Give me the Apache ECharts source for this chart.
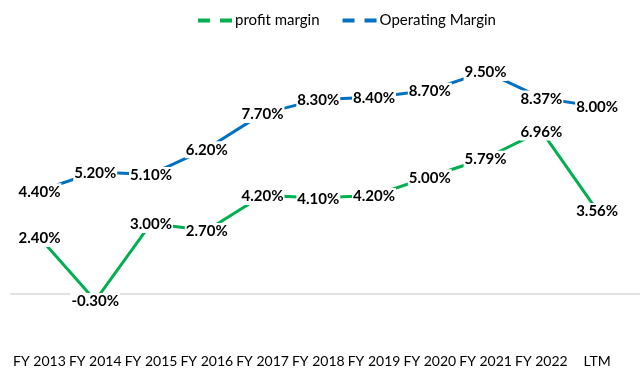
<!DOCTYPE html>
<html>
<head>
<meta charset="utf-8">
<script src="https://cdn.jsdelivr.net/npm/echarts@6/dist/echarts.min.js"></script>
<style>html,body{margin:0;padding:0;background:#fff;}#c{width:640px;height:378px;}</style>
</head>
<body>
<div id="c"></div>
<script>
const categories = ['FY 2013','FY 2014','FY 2015','FY 2016','FY 2017','FY 2018','FY 2019','FY 2020','FY 2021','FY 2022','LTM'];
const profitMargin = [2.40, -0.30, 3.00, 2.70, 4.20, 4.10, 4.20, 5.00, 5.79, 6.96, 3.56];
const operatingMargin = [4.40, 5.20, 5.10, 6.20, 7.70, 8.30, 8.40, 8.70, 9.50, 8.37, 8.00];

const FONT = 'Lato';
const yMin = -2.2, yMax = 10.85;
const chart = echarts.init(document.getElementById('c'), null, {renderer: 'canvas'});
const dashIcon = 'path://M0,0h12v4h-12z M22,0h12v4h-12z';
const labelCfg = {
  show: true, position: 'inside', offset: [0, 1], color: '#000', fontFamily: FONT, fontWeight: 'bold', fontSize: 15,
  backgroundColor: '#fff', padding: [1, 1],
  formatter: p => p.value.toFixed(2) + '%'
};
chart.setOption({
  animation: false,
  legend: {
    left: 198, top: 13, padding: 0, itemWidth: 34, itemHeight: 4, itemGap: 23,
    textStyle: {fontFamily: FONT, fontSize: 15, color: '#000', padding: [0,0,0,-2]},
    data: [{name: 'profit margin', icon: dashIcon}, {name: 'Operating Margin', icon: dashIcon}]
  },
  grid: [
    {left: 11.6, right: 15, top: 40, bottom: 33},
    {left: 11, right: 0, top: 40, bottom: 33}
  ],
  xAxis: [
    {type: 'category', data: categories, gridIndex: 0, boundaryGap: true,
     axisLine: {show: false}, axisTick: {show: false},
     axisLabel: {color: '#000', fontFamily: FONT, fontSize: 14, margin: 9, interval: 0}},
    {type: 'category', data: categories, gridIndex: 1,
     axisLine: {show: true, onZero: true, lineStyle: {color: '#d9d9d9', width: 1.5}},
     axisTick: {show: false}, axisLabel: {show: false}}
  ],
  yAxis: [
    {type: 'value', gridIndex: 0, min: yMin, max: yMax, show: false},
    {type: 'value', gridIndex: 1, min: yMin, max: yMax, show: false}
  ],
  series: [
    {name: 'profit margin', type: 'line', data: profitMargin, xAxisIndex: 0, yAxisIndex: 0,
     symbol: 'circle', symbolSize: 1, showSymbol: true,
     lineStyle: {color: '#00B050', width: 3}, itemStyle: {color: '#00B050'},
     label: labelCfg, z: 3},
    {name: 'Operating Margin', type: 'line', data: operatingMargin, xAxisIndex: 0, yAxisIndex: 0,
     symbol: 'circle', symbolSize: 1, showSymbol: true,
     lineStyle: {color: '#0070C0', width: 3}, itemStyle: {color: '#0070C0'},
     label: labelCfg, z: 3}
  ]
});
</script>
</body>
</html>
